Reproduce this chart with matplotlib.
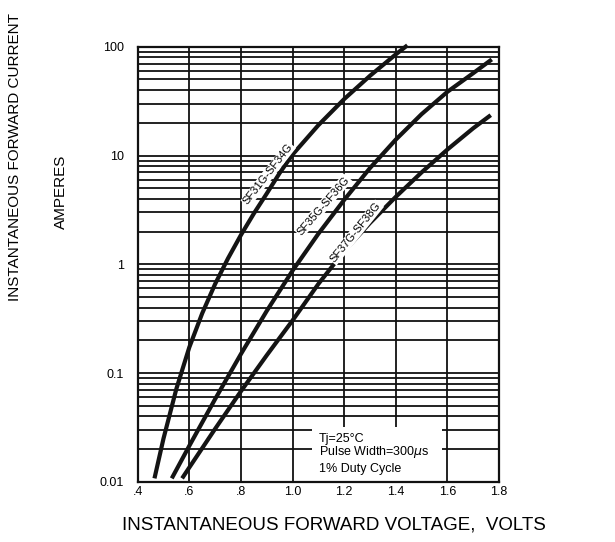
import matplotlib
matplotlib.use("Agg")
import matplotlib.pyplot as plt
from matplotlib.ticker import LogLocator, NullFormatter
from matplotlib.patches import Rectangle

plt.rcParams['font.family'] = ['Liberation Sans', 'DejaVu Sans']

# ---- data ----
v_a = [0.465, 0.50, 0.55, 0.60, 0.65, 0.70, 0.75, 0.80, 0.85, 0.90, 0.95, 1.00,
       1.10, 1.20, 1.30, 1.40, 1.445]
i_a = [0.0108, 0.0251, 0.072, 0.173, 0.355, 0.66, 1.135, 1.86, 2.93, 4.47, 6.9,
       10.2, 19, 33, 54, 85, 103]

v_b = [0.532, 0.60, 0.70, 0.80, 0.90, 1.00, 1.10, 1.20, 1.30, 1.40, 1.50, 1.60,
       1.70, 1.772]
i_b = [0.0108, 0.0215, 0.0578, 0.150, 0.373, 0.875, 1.91, 3.91, 7.67, 14.0, 24.0,
       38.5, 57.1, 76.4]

v_c = [0.572, 0.60, 0.70, 0.80, 0.90, 1.00, 1.10, 1.20, 1.30, 1.40, 1.50, 1.60,
       1.70, 1.768]
i_c = [0.0108, 0.0136, 0.0308, 0.0682, 0.146, 0.305, 0.66, 1.32, 2.40, 4.17, 7.0,
       11.35, 17.8, 23.5]

series_labels = ['SF31G-SF34G', 'SF35G-SF36G', 'SF37G-SF38G']
x_ticks = [0.4, 0.6, 0.8, 1.0, 1.2, 1.4, 1.6, 1.8]
x_ticklabels = ['.4', '.6', '.8', '1.0', '1.2', '1.4', '1.6', '1.8']
y_ticks = [0.01, 0.1, 1, 10, 100]
y_ticklabels = ['0.01', '0.1', '1', '10', '100']
note_lines = ['Tj=25°C', r'Pulse Width=300$\mu$s', '1% Duty Cycle']

W, H = 615, 542
fig = plt.figure(figsize=(W / 100, H / 100), dpi=100)
L, R, T, B = 137.7, 499.0, 46.7, 482.0
ax = fig.add_axes([L / W, 1 - B / H, (R - L) / W, (B - T) / H])

ax.set_yscale('log')
ax.set_xlim(0.4, 1.8)
ax.set_ylim(0.01, 100)
ax.set_xticks(x_ticks)
ax.set_xticklabels(x_ticklabels)
ax.set_yticks(y_ticks)
ax.set_yticklabels(y_ticklabels)
ax.yaxis.set_minor_locator(LogLocator(base=10, subs=range(2, 10)))
ax.yaxis.set_minor_formatter(NullFormatter())
ax.tick_params(axis='both', which='both', length=0, labelsize=9)
ax.tick_params(axis='y', pad=10)
ax.tick_params(axis='x', pad=3)
ax.set_axisbelow(True)
ax.grid(True, which='major', axis='both', color='#111111', lw=1.3)
ax.grid(True, which='minor', axis='y', color='#111111', lw=1.3)
for s in ax.spines.values():
    s.set_linewidth(1.6)
    s.set_color('#111111')

# white note box
ax.add_patch(Rectangle((1.076, 0.01), 0.504, 0.0222, facecolor='white',
                       edgecolor='none', zorder=1))
for txt, yv in zip(note_lines, [0.0250, 0.0187, 0.0133]):
    ax.text(1.103, yv, txt, fontsize=9, ha='left', va='center', zorder=3)

for v, i in [(v_a, i_a), (v_b, i_b), (v_c, i_c)]:
    ax.plot(v, i, color='#141414', lw=3.0, solid_capstyle='butt',
            solid_joinstyle='round', clip_on=False, zorder=4)

label_pos = [(0.906, 6.74, 52), (1.119, 3.46, 49), (1.245, 1.96, 51)]
for lab, (xv, yv, rot) in zip(series_labels, label_pos):
    ax.text(xv, yv, lab, fontsize=8, rotation=rot, rotation_mode='anchor',
            ha='center', va='center', zorder=5,
            bbox=dict(facecolor='white', edgecolor='none', pad=0.6))

fig.text(15 / W, 1 - 157 / H, 'INSTANTANEOUS FORWARD CURRENT', rotation=90,
         ha='center', va='center', fontsize=11)
fig.text(61 / W, 1 - 192 / H, 'AMPERES', rotation=90,
         ha='center', va='center', fontsize=11)
fig.text(334 / W, 1 - 525 / H, 'INSTANTANEOUS FORWARD VOLTAGE,  VOLTS',
         ha='center', va='center', fontsize=13.5)

fig.savefig('out.png', dpi=100, facecolor='white')
